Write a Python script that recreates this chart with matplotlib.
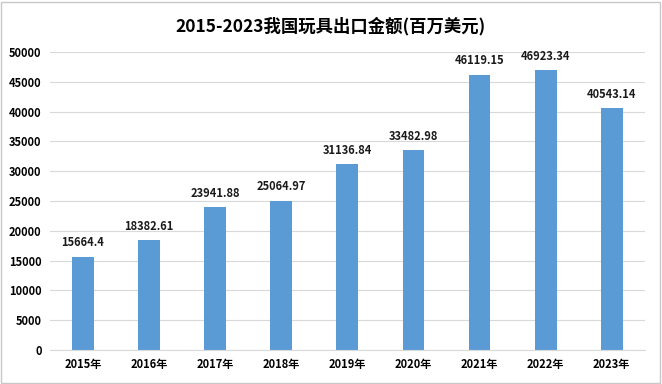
import matplotlib.pyplot as plt
import numpy as np

plt.rcParams['font.family'] = ['Noto Sans CJK SC', 'DejaVu Sans']

years = ['2015年', '2016年', '2017年', '2018年', '2019年', '2020年', '2021年', '2022年', '2023年']
values = [15664.4, 18382.61, 23941.88, 25064.97, 31136.84, 33482.98, 46119.15, 46923.34, 40543.14]
labels = ['15664.4', '18382.61', '23941.88', '25064.97', '31136.84', '33482.98', '46119.15', '46923.34', '40543.14']

fig = plt.figure(figsize=(6.62, 3.84), dpi=100)
ax = fig.add_axes([0.0755, 0.0885, 0.8985, 0.776])

x = np.arange(len(years))
ax.bar(x, values, width=0.33, color='#5B9BD5', zorder=2)
for xi, v, lab in zip(x, values, labels):
    ax.text(xi, v + 1300, lab, ha='center', va='bottom', fontsize=8, fontweight='bold', color='#1a1a1a')

ax.set_xlim(-0.5, len(years) - 0.5)
ax.set_ylim(0, 50000)
ax.set_yticks(np.arange(0, 50001, 5000))
ax.set_xticks(x)
ax.set_xticklabels(years)
ax.yaxis.grid(True, color='#D9D9D9', linewidth=0.8, zorder=0)
ax.tick_params(axis='both', length=0, labelsize=8, pad=6)
for lab in ax.get_xticklabels() + ax.get_yticklabels():
    lab.set_fontweight('bold')
for s in ['top', 'right', 'left']:
    ax.spines[s].set_visible(False)
ax.spines['bottom'].set_color('#D9D9D9')

fig.suptitle('2015-2023我国玩具出口金额(百万美元)', y=0.955, fontsize=12.5, fontweight='bold')

border = plt.Rectangle((0.002, 0.003), 0.995, 0.993, transform=fig.transFigure,
                       fill=False, edgecolor='#C8C8C8', linewidth=1)
fig.patches.append(border)

fig.savefig('out.png', dpi=100)
